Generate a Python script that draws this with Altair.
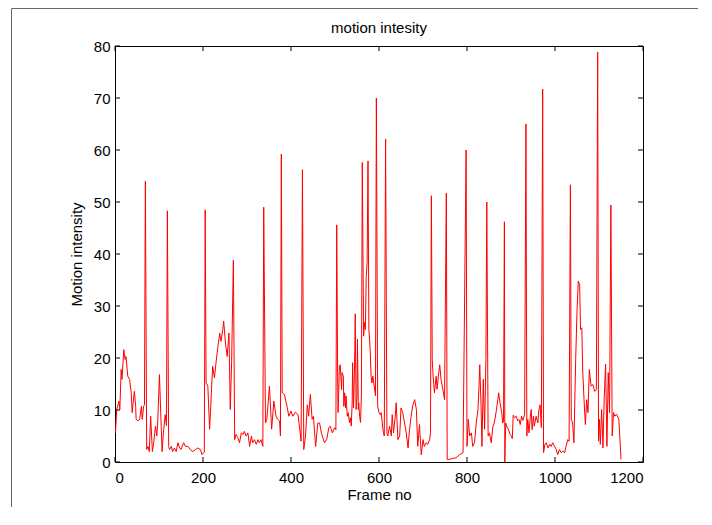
import altair as alt
import pandas as pd

# ---------------- data ----------------
frames = [
    1, 4, 9, 11, 14, 16, 20, 23, 25, 29, 33, 37, 39, 44, 47, 48, 52, 56, 60, 62,
    65, 67, 69, 72, 75, 78, 81, 85, 88, 92, 95, 97, 101, 105, 107, 110, 114, 117, 119, 122,
    124, 128, 131, 135, 139, 143, 147, 150, 156, 160, 166, 171, 177, 183, 188, 194, 198, 203, 205, 207,
    211, 215, 217, 219, 222, 226, 230, 234, 238, 241, 245, 247, 251, 255, 259, 262, 265, 269, 272, 275,
    279, 283, 287, 291, 294, 298, 302, 306, 310, 313, 317, 321, 325, 328, 332, 336, 338, 342, 345, 351,
    356, 361, 366, 370, 374, 376, 378, 380, 385, 391, 395, 400, 404, 410, 416, 419, 423, 426, 429, 433,
    437, 440, 444, 448, 451, 456, 461, 465, 469, 476, 481, 486, 489, 494, 499, 502, 504, 506, 507, 510,
    512, 515, 516, 519, 520, 522, 524, 525, 528, 530, 533, 535, 537, 539, 540, 542, 543, 545, 546, 548,
    550, 551, 553, 554, 556, 558, 560, 562, 565, 567, 569, 571, 573, 575, 577, 580, 582, 584, 586, 588,
    590, 592, 594, 597, 600, 603, 605, 609, 612, 615, 618, 620, 624, 628, 630, 633, 637, 639, 643, 647, 650, 654,
    658, 662, 666, 669, 673, 677, 681, 685, 688, 692, 696, 700, 703, 707, 711, 715, 717, 719, 721, 723,
    726, 730, 732, 735, 738, 741, 745, 749, 753, 755, 760, 768, 775, 783, 791, 798, 800, 803, 806, 810,
    813, 817, 821, 825, 827, 829, 832, 834, 837, 840, 843, 845, 848, 851, 855, 859, 862, 866, 870, 872,
    875, 879, 881, 883, 885, 886, 888, 890, 894, 898, 901, 903, 905, 908, 912, 915, 918, 921, 924, 927,
    931, 934, 936, 938, 941, 944, 946, 948, 951, 953, 957, 961, 963, 966, 969, 972, 974, 977, 980, 984,
    988, 991, 995, 999, 1003, 1006, 1010, 1014, 1018, 1022, 1025, 1029, 1032, 1035, 1037, 1040, 1043, 1047, 1050, 1053,
    1056, 1058, 1061, 1063, 1066, 1069, 1072, 1075, 1078, 1082, 1086, 1090, 1094, 1097, 1099, 1101, 1103, 1106, 1109, 1112,
    1115, 1118, 1121, 1124, 1127, 1130, 1133, 1136, 1140, 1145, 1148, 1150,
]
intensity = [
    5.6, 10.1, 11.7, 10.1, 17.8, 15.9, 21.6, 19.7, 20.3, 16.5, 15.9, 13.3, 9.5, 13.6, 10.7, 8.2, 7.9, 8.2, 10.7, 8.2,
    10.7, 11.0, 54.0, 2.4, 3.0, 2.0, 8.8, 2.0, 3.7, 6.9, 5.0, 7.5, 16.8, 6.9, 2.0, 5.6, 9.1, 7.0, 48.3, 3.0,
    2.4, 3.0, 2.0, 2.7, 2.0, 3.7, 2.7, 2.4, 3.7, 3.0, 3.0, 2.4, 2.0, 2.4, 2.7, 2.4, 1.4, 1.9, 48.5, 15.2,
    14.6, 6.3, 9.5, 13.3, 18.4, 16.2, 19.4, 22.3, 24.8, 23.2, 25.5, 27.1, 22.9, 20.3, 24.8, 10.1, 19.1, 38.8, 4.3, 5.3,
    4.7, 3.7, 5.6, 5.3, 5.9, 5.0, 5.6, 3.0, 5.0, 3.7, 4.3, 3.4, 4.3, 3.7, 4.3, 3.0, 49.0, 7.5, 8.2, 14.6,
    6.3, 11.7, 8.8, 8.2, 7.9, 5.0, 59.2, 13.3, 13.0, 10.7, 8.8, 9.8, 8.8, 9.6, 9.1, 6.9, 4.0, 56.2, 2.4, 5.0,
    11.0, 8.8, 13.0, 8.2, 8.8, 3.0, 7.5, 7.5, 5.6, 3.7, 4.3, 6.6, 6.9, 5.6, 6.6, 6.2, 45.6, 16.2, 9.5, 18.4,
    18.7, 13.9, 17.2, 16.5, 10.7, 13.3, 10.4, 12.7, 8.8, 9.5, 7.6, 8.5, 6.9, 11.4, 19.1, 10.4, 12.7, 21.6, 28.5, 10.1,
    12.7, 23.6, 10.1, 11.4, 8.8, 7.6, 12.7, 57.6, 24.2, 26.8, 25.5, 35.7, 38.3, 57.9, 25.5, 21.6, 16.5, 15.2, 16.5, 15.2,
    14.0, 12.7, 70.0, 10.7, 9.5, 9.1, 9.5, 6.2, 5.0, 62.1, 5.6, 5.0, 6.9, 5.0, 9.1, 5.6, 8.8, 11.4, 4.3, 5.0, 10.4, 9.5,
    7.5, 5.6, 2.7, 5.9, 8.8, 11.0, 12.0, 10.1, 3.0, 7.2, 1.4, 4.3, 3.0, 3.7, 3.4, 4.3, 5.6, 51.2, 19.7, 16.5,
    13.3, 16.5, 14.0, 16.5, 18.7, 15.9, 14.0, 12.0, 51.7, 0.5, 0.5, 0.7, 0.8, 1.4, 1.8, 60.0, 3.0, 8.2, 5.0, 5.6,
    3.0, 3.7, 7.5, 10.1, 14.0, 18.7, 10.7, 3.0, 15.9, 6.3, 19.7, 50.0, 5.0, 5.6, 3.7, 6.9, 7.5, 9.5, 12.0, 13.3,
    11.4, 9.5, 7.5, 7.9, 46.2, 0.0, 7.5, 6.9, 6.3, 5.3, 5.0, 4.5, 9.0, 8.5, 8.8, 7.9, 8.2, 7.2, 8.8, 8.0,
    9.2, 65.0, 5.0, 8.2, 5.6, 8.8, 10.1, 6.2, 8.8, 6.9, 8.8, 7.5, 9.8, 11.0, 6.6, 71.7, 1.8, 3.4, 3.7, 2.7,
    3.4, 3.0, 3.7, 3.0, 2.4, 1.4, 2.4, 1.8, 2.1, 1.8, 3.0, 4.3, 4.0, 53.3, 8.2, 7.5, 3.7, 19.7, 29.0, 34.8,
    34.1, 25.5, 25.8, 17.5, 12.0, 7.2, 12.0, 9.5, 17.8, 14.6, 14.9, 13.6, 13.9, 78.8, 4.0, 8.2, 3.4, 10.1, 2.7, 12.7,
    18.8, 3.0, 17.2, 9.5, 49.4, 5.0, 9.5, 8.8, 9.2, 8.2, 3.7, 0.5,
]
x_ticks = [0, 200, 400, 600, 800, 1000, 1200]
y_ticks = [0, 10, 20, 30, 40, 50, 60, 70, 80]
chart_title = "motion intesity"
x_title = "Frame no"
y_title = "Motion intensity"

# ---------------- chart ----------------
FONT = "Liberation Sans"
W, H = 528, 416
TICK = 5

df = pd.DataFrame({"frame": frames, "intensity": intensity})
xt_df = pd.DataFrame({"frame": x_ticks})
yt_df = pd.DataFrame({"intensity": y_ticks})

xs = alt.Scale(domain=[0, 1200], nice=False, zero=False)
ys = alt.Scale(domain=[0, 80], nice=False, zero=False)

common = dict(grid=False, domain=False, labelFont=FONT, titleFont=FONT,
              labelFontSize=15, titleFontSize=15, labelColor="black",
              titleColor="black", titleFontWeight="normal")

main = alt.Chart(df).mark_line(color="#ff0000", strokeWidth=1).encode(
    x=alt.X("frame:Q", scale=xs,
            axis=alt.Axis(orient="bottom", values=x_ticks, format="d", ticks=False,
                          tickSize=0, labelPadding=8, title=x_title, titlePadding=2,
                          **common)),
    y=alt.Y("intensity:Q", scale=ys,
            axis=alt.Axis(orient="left", values=y_ticks, format="d", ticks=False,
                          tickSize=0, labelPadding=5, title=y_title, titlePadding=9,
                          **common)),
)

# inward tick marks on all four sides of the box (MATLAB style)
tick_style = dict(color="black", strokeWidth=1)
ticks_bottom = alt.Chart(xt_df).mark_rule(**tick_style).encode(
    x=alt.X("frame:Q", scale=xs, axis=None), y=alt.value(H), y2=alt.value(H - TICK))
ticks_top = alt.Chart(xt_df).mark_rule(**tick_style).encode(
    x=alt.X("frame:Q", scale=xs, axis=None), y=alt.value(0), y2=alt.value(TICK))
ticks_left = alt.Chart(yt_df).mark_rule(**tick_style).encode(
    y=alt.Y("intensity:Q", scale=ys, axis=None), x=alt.value(0), x2=alt.value(TICK))
ticks_right = alt.Chart(yt_df).mark_rule(**tick_style).encode(
    y=alt.Y("intensity:Q", scale=ys, axis=None), x=alt.value(W), x2=alt.value(W - TICK))

# figure window frame (top and left edges)
frame_df = pd.DataFrame({"k": [0]})
frame_top = alt.Chart(frame_df).mark_rule(color="#666666", strokeWidth=1).encode(
    x=alt.value(-103.5), x2=alt.value(W + 55), y=alt.value(-37.5))
frame_left = alt.Chart(frame_df).mark_rule(color="#666666", strokeWidth=1).encode(
    x=alt.value(-103.5), y=alt.value(-37.5), y2=alt.value(H + 45))

chart = alt.layer(
    main, ticks_bottom, ticks_top, ticks_left, ticks_right, frame_top, frame_left
).resolve_axis(
    x="independent", y="independent"
).properties(
    width=W, height=H,
    title=alt.TitleParams(chart_title, font=FONT, fontSize=15, fontWeight="normal",
                          color="black", anchor="middle", frame="group",
                          baseline="alphabetic", offset=-39.5),
    autosize=alt.AutoSizeParams(type="none"),
    padding={"left": 107, "top": 38, "right": 55, "bottom": 45},
    background="white",
).configure_view(stroke="black", strokeWidth=1)

chart.save("out.html", embed_options={"renderer": "svg", "actions": False})
